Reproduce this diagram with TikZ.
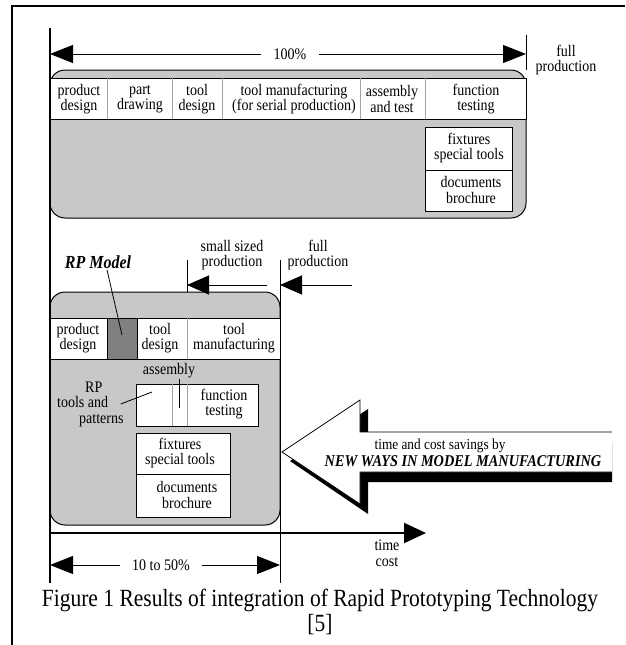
\documentclass[tikz,border=0pt]{standalone}
\usepackage{fontspec}
\setmainfont{Liberation Serif}
\usetikzlibrary{arrows.meta}
\definecolor{boxgray}{RGB}{200,200,200}
\definecolor{rpgray}{RGB}{128,128,128}
\definecolor{divgray}{RGB}{165,165,165}
\begin{document}
\begin{tikzpicture}[x=1pt,y=-1pt,
    tall/.style={yscale=1.15,transform shape},
    lbl/.style={tall,font=\fontsize{14}{13.5}\selectfont,align=center,inner sep=0pt},
    box/.style={draw,fill=boxgray,rounded corners=15pt,line width=1pt},
    cell/.style={draw,fill=white,line width=0.8pt},
    sepline/.style={draw=divgray,line width=0.8pt},
    bigtip/.style={line width=1pt,-{Triangle[length=23pt,width=18pt]}},
    midtip/.style={line width=1pt,-{Triangle[length=22pt,width=19pt]}}]
\useasboundingbox (0,0) rectangle (625,645);
% page frame
\draw[line width=2pt] (12,645) -- (12,6) -- (625,6);

% full production (top)
\draw[box] (50,70) rectangle (526,218);
\draw[cell] (50,78) rectangle (526,119);
\foreach \x in {107,172,222,360,425}
    \draw[sepline] (\x,78) -- (\x,119);
\node[lbl] (pdesign) at (79,99) {product\\design};
\node[lbl] (pdrawing) at (140,99) {part\\drawing};
\node[lbl] (tdesign) at (197,99) {tool\\design};
\node[lbl] (tmanuf) at (294,99) {tool manufacturing\\(for serial production)};
\node[lbl] (asmtest) at (392,99) {assembly\\and test};
\node[lbl] (ftest) at (476,99) {function\\testing};
\draw[cell] (425,127) rectangle (512,211);
\draw[line width=0.8pt] (425,170) -- (512,170);
\node[lbl] (fixt) at (469,148) {fixtures\\special tools};
\node[lbl] (docs) at (471,190) {documents\\brochure};

% 100% dimension
\coordinate (T1) at (50,54);
\coordinate (T2) at (526,54);
\node[lbl,inner xsep=12pt] (hundred) at (290,54) {100\%};
\draw[bigtip] (hundred) -- (T1);
\draw[bigtip] (hundred) -- (T2);
\draw[line width=1pt] (526,35) -- (526,70);
\node[lbl] (fullprod) at (566,60) {full\\production};

% RP model (bottom)
\draw[box] (50,292) rectangle (280,525);
\draw[cell] (50,318) rectangle (280,359);
\draw[fill=rpgray,line width=0.8pt] (107,318) rectangle (137,359);
\draw[sepline] (187,318) -- (187,359);
\node[lbl] (pdesignb) at (78,338) {product\\design};
\node[lbl] (tdesignb) at (160,338) {tool\\design};
\node[lbl] (tmanufb) at (234,338) {tool\\manufacturing};

\node[tall,font=\fontsize{16}{18}\selectfont\bfseries\itshape,inner sep=1pt] (rpmodel) at (98,262) {RP Model};
\coordinate (rpcell) at (122,335);
\draw[line width=0.8pt] ([xshift=9pt]rpmodel.south) -- (rpcell);

% small sized / full production
\draw[line width=1pt] (187,260) -- (187,292);
\draw[line width=1pt] (280,260) -- (280,583);
\coordinate (S1) at (187,285);
\coordinate (S2) at (267,285);
\coordinate (F1) at (280,285);
\coordinate (F2) at (352,285);
\draw[midtip] (S2) -- (S1);
\draw[midtip] (F2) -- (F1);
\node[lbl] (smallprod) at (232,255) {small sized\\production};
\node[lbl] (fullprodb) at (318,255) {full\\production};

% assembly, function testing
\draw[cell] (136,384) rectangle (258,426);
\draw[sepline] (172,384) -- (172,426);
\draw[sepline] (187,384) -- (187,426);
\node[lbl] (ftestb) at (224,404) {function\\testing};
\node[lbl] (assembly) at (169,371) {assembly};
\coordinate (asm) at (179,408);
\draw[line width=0.8pt] (assembly.south -| asm) -- (asm);
\node[lbl,anchor=west,align=left] (rptools) at (57,404)
    {\hspace*{28pt}RP\\tools and\\\hspace*{22pt}patterns};
\coordinate (rpt) at (152,392);
\draw[line width=0.8pt] ([xshift=-3pt]rptools.east) -- (rpt);
\draw[cell] (136,433) rectangle (230,517);
\draw[line width=0.8pt] (136,474) -- (230,474);
\node[lbl] (fixtb) at (180,453) {fixtures\\special tools};
\node[lbl] (docsb) at (187,495) {documents\\brochure};

% time axis
\draw[line width=1.5pt] (50,28) -- (50,583);
\coordinate (t0) at (50,533);
\coordinate (t1) at (426,533);
\draw[line width=2pt,-{Triangle[length=22pt,width=20pt]}] (t0) -- (t1);
\node[lbl] (timecost) at (387,553) {time\\cost};

% 10 to 50% dimension
\coordinate (B1) at (50,565);
\coordinate (B2) at (280,565);
\node[lbl,inner xsep=12pt] (tenfifty) at (161,565) {10 to 50\%};
\draw[bigtip] (tenfifty) -- (B1);
\draw[bigtip] (tenfifty) -- (B2);

% savings arrow
\fill (290,461) -- (368,409) -- (368,442) -- (612,442) -- (612,482)
    -- (368,482) -- (368,514) -- cycle;
\fill[white] (282,452) -- (360,400) -- (360,432) -- (612,432) -- (612,472)
    -- (360,472) -- (360,504) -- cycle;
\draw[line width=0.8pt] (612,432) -- (360,432) -- (360,400) -- (282,452)
    -- (360,504) -- (360,472) -- (612,472);
\node[tall,font=\fontsize{13.3}{15}\selectfont,inner sep=0pt] (savings) at (440,446)
    {time and cost savings by};
\node[tall,font=\fontsize{14.3}{16}\selectfont\bfseries\itshape,inner sep=0pt] (newways) at (463,461)
    {NEW WAYS IN MODEL MANUFACTURING};

% caption
\node[tall,font=\fontsize{21.5}{22}\selectfont,align=center,inner sep=0pt] (caption) at (320,612)
    {Figure 1 Results of integration of Rapid Prototyping Technology\\{[5]}};
\end{tikzpicture}
\end{document}
